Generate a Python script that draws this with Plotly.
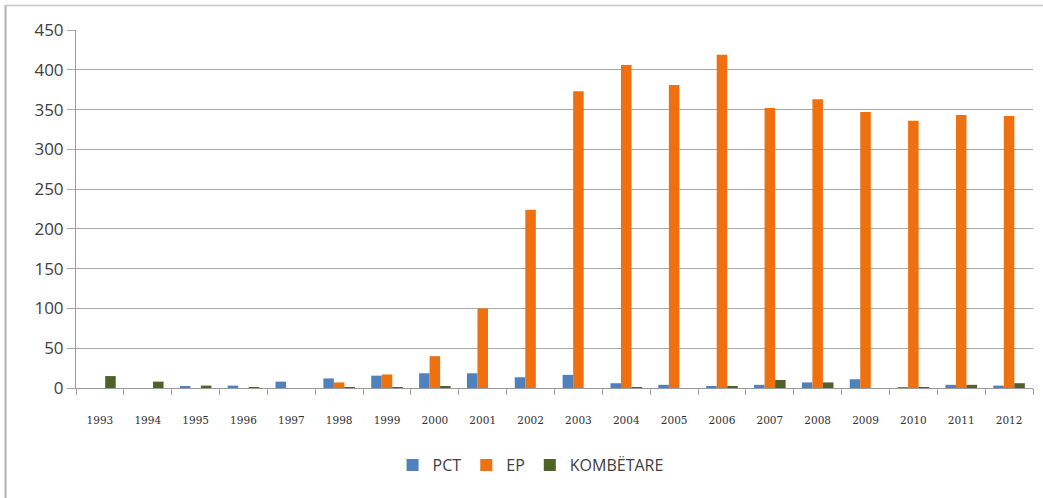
import plotly.graph_objects as go

years = [str(y) for y in range(1993, 2013)]
pct = [0, 0, 1.5, 3, 8, 12, 15.5, 18.5, 18.5, 13.5, 16.5, 6, 4, 2.5, 4, 7, 11, 1, 4, 3]
ep = [0, 0, 0, 0, 0, 7, 17, 40, 100, 224, 373, 406, 381, 419, 352, 363, 347, 336, 343, 342]
komb = [15, 8, 3, 1, 0, 1, 1, 2, 0, 0, 0, 1, 0, 2.5, 10, 7, 0, 1, 4, 6]

W, H = 1043, 498
L, R, T, B = 76, 1033, 30, 388

fig = go.Figure()
fig.add_bar(x=years, y=pct, name="PCT", marker_color="#4F81BD", marker_line_width=0)
fig.add_bar(x=years, y=ep, name="EP", marker_color="#EE700F", marker_line_width=0)
fig.add_bar(x=years, y=komb, name="KOMBËTARE", marker_color="#4F6228", marker_line_width=0)

def px_x(p):
    return (p - L) / (R - L)

def px_y(p):
    return (B - p) / (B - T)

fig.update_layout(
    width=W, height=H,
    margin=dict(l=L, r=W - R, t=T, b=H - B),
    paper_bgcolor="white", plot_bgcolor="white",
    barmode="group", bargap=0.34, bargroupgap=0,
    font=dict(family="Open Sans, Noto Sans, sans-serif", color="#404040"),
    showlegend=True,
    legend=dict(orientation="h", x=0.475, xanchor="center", y=px_y(465), yanchor="middle",
                font=dict(size=16, color="#404040"), itemwidth=30, traceorder="normal"),
    xaxis=dict(type="category", showgrid=False, showline=True, linecolor="#9A9A9A", linewidth=1,
               ticks="outside", tickson="boundaries", ticklen=6, tickcolor="#9A9A9A",
               tickfont=dict(family="DejaVu Serif, Liberation Serif, serif", size=10.5, color="#303030"),
               ticklabelstandoff=22),
    yaxis=dict(range=[0, 450], dtick=50, showgrid=True, gridcolor="#A8A8A8", gridwidth=1,
               showline=True, linecolor="#9A9A9A", linewidth=1, zeroline=False,
               ticks="outside", ticklen=8, tickcolor="#A8A8A8",
               tickfont=dict(size=17, color="#404040")),
)

fig.add_shape(type="line", xref="paper", yref="paper", x0=px_x(5.5), x1=px_x(5.5), y0=px_y(5), y1=px_y(498),
              line=dict(color="#B0B0B0", width=2))
fig.add_shape(type="line", xref="paper", yref="paper", x0=px_x(5), x1=px_x(1043), y0=px_y(5.5), y1=px_y(5.5),
              line=dict(color="#C8C8C8", width=1.5))

fig.write_html("out.html", config={"displayModeBar": False},
               post_script="document.body.style.margin='0';")
